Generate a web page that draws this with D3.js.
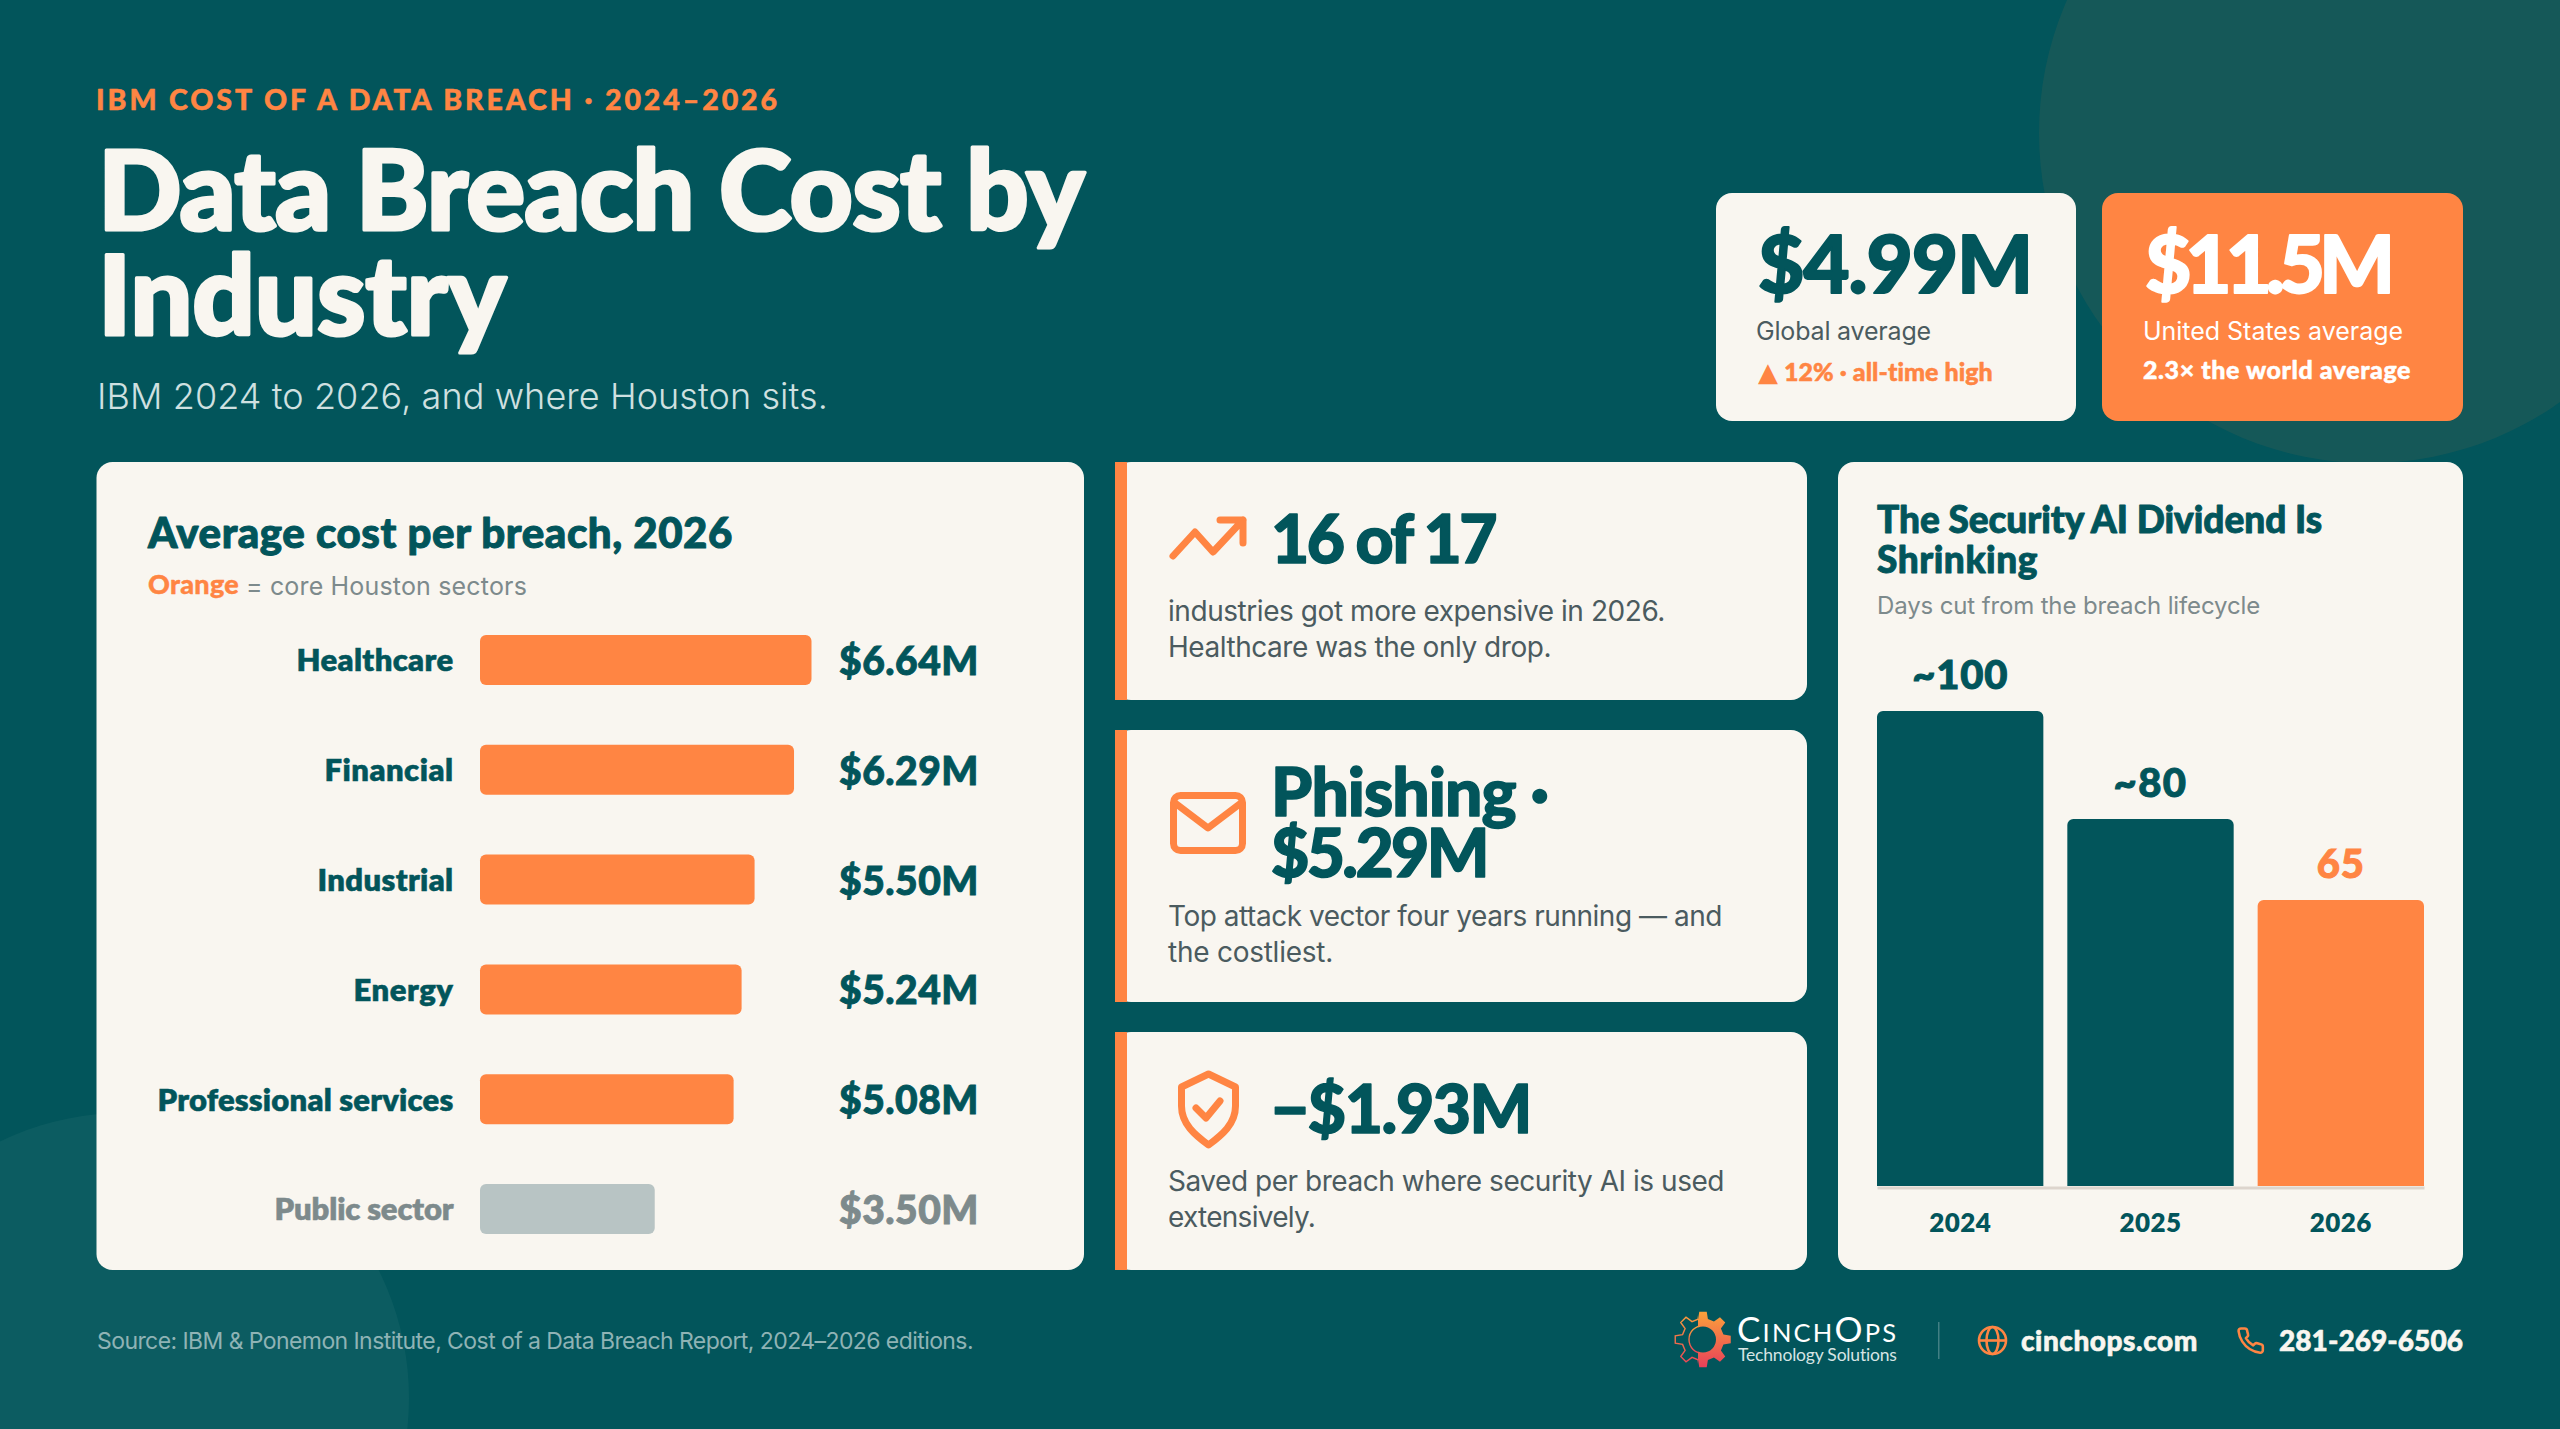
<!DOCTYPE html>
<html><head><meta charset="utf-8">
<script src="https://cdn.jsdelivr.net/npm/d3@7"></script>
<style>html,body{margin:0;padding:0;background:#02555b}svg{display:block}</style>
</head><body><svg id="c" width="2560" height="1429" viewBox="0 0 2560 1429"></svg>
<script>
const industries = ["Healthcare","Financial","Industrial","Energy","Professional services","Public sector"];
const costs = [6.64,6.29,5.50,5.24,5.08,3.50];
const coreSector = [true,true,true,true,true,false];
const years = ["2024","2025","2026"];
const daysCut = [100,80,65];
const daysLabels = ["~100","~80","65"];

const HEAD="Lato, sans-serif", BODY="Inter, sans-serif";
const BG="#02555b", CREAM="#f9f6f0", ORANGE="#ff8543", TEAL="#02555b", SLATE="#4b5b5f", GREY="#7d8a8c";
const svg=d3.select("#c");

function heavy(t,c,sw){t.attr("stroke",c).attr("stroke-width",sw).attr("stroke-linejoin","round");}
function T(g,x,y,s,o={}){
  const c=o.c||TEAL, z=o.s||28;
  const t=g.append("text").attr("x",x).attr("y",y).text(s)
    .attr("font-family",o.f||BODY).attr("font-size",z).attr("font-weight",o.b||400)
    .attr("fill",c).attr("text-anchor",o.a||"start");
  if(o.b>=900) heavy(t,c,o.sw!==undefined?o.sw:z*0.022);
  if(o.w) fit(t,o.w);
  return t;
}
function fit(t,w){const n=t.node(),w0=n.getComputedTextLength(),l=t.text().length;t.style("letter-spacing",((w-w0)/l)+"px");}

svg.append("rect").attr("width",2560).attr("height",1429).attr("fill",BG);
svg.append("circle").attr("cx",2369).attr("cy",133).attr("r",330).attr("fill",ORANGE).attr("fill-opacity",.08);
svg.append("circle").attr("cx",124).attr("cy",1398).attr("r",285).attr("fill",CREAM).attr("fill-opacity",.045);

// header
T(svg,96,109.5,"IBM COST OF A DATA BREACH · 2024–2026",{f:HEAD,s:28.5,b:900,sw:.5,c:ORANGE,w:684});
T(svg,98,230,"Data Breach Cost by",{f:HEAD,s:110,b:900,sw:3.2,c:CREAM,w:986});
T(svg,98,335,"Industry",{f:HEAD,s:110,b:900,sw:3.2,c:CREAM,w:408});
T(svg,97,409,"IBM 2024 to 2026, and where Houston sits.",{s:36,b:300,c:"#cfe0e0",w:731});

// KPI cards
const cards=svg.append("g");
function rr(x,y,w,h,fill,r=16){cards.append("rect").attr("x",x).attr("y",y).attr("width",w).attr("height",h).attr("rx",r).attr("fill",fill);}
rr(1716,193,360,228,CREAM);
rr(2102,193,361,228,ORANGE);
T(svg,1758,293,"$4.99M",{f:HEAD,s:80,b:900,w:274});
T(svg,1756,340,"Global average",{s:25,c:SLATE,w:175});
const up=T(svg,1758,381,"",{f:HEAD,s:25,b:900,sw:.5,c:ORANGE});
up.append("tspan").text("▲").attr("font-family","DejaVu Sans").attr("font-size",26).attr("stroke","none");
up.append("tspan").text(" 12% · all-time high").attr("dx",0).style("letter-spacing","0.05px");
T(svg,2145,293,"$11.5M",{f:HEAD,s:80,b:900,c:"#fff",w:244});
T(svg,2143,340,"United States average",{s:25,c:"#fff",w:260});
T(svg,2143,379,"2.3× the world average",{f:HEAD,s:25,b:900,sw:.5,c:"#fff",w:268});

// main cards
rr(96.5,462,987.5,808,CREAM);
[[462,238],[730,272],[1032,238]].forEach(([y,h])=>{
  rr(1115,y,692,h,CREAM);
  cards.append("rect").attr("x",1115).attr("y",y).attr("width",12).attr("height",h).attr("fill",ORANGE);
});
rr(1838,462,625,808,CREAM);

// left chart
const left=svg.append("g");
T(left,148,548,"Average cost per breach, 2026",{f:HEAD,s:42,b:900,sw:1,w:585});
T(left,148,594,"Orange",{f:HEAD,s:27,b:900,sw:.4,c:ORANGE,w:91});
T(left,246,595,"= core Houston sectors",{s:25,b:400,c:GREY,w:281});

const xCost=d3.scaleLinear().domain([0,6.64]).range([480,811.5]);
const yInd=d3.scaleBand().domain(industries).range([635,1234]).paddingInner(0.5446);
left.selectAll("rect.bar").data(industries).join("rect").attr("class","bar")
  .attr("x",xCost(0)).attr("y",d=>yInd(d)).attr("height",yInd.bandwidth())
  .attr("width",(d,i)=>xCost(costs[i])-xCost(0)).attr("rx",6)
  .attr("fill",(d,i)=>coreSector[i]?ORANGE:"#b8c4c4");

const axL=left.append("g").attr("transform","translate(453.5,0)").call(d3.axisLeft(yInd).tickSize(0).tickPadding(0));
axL.select(".domain").remove();
const labelW=[157,129,136,100,296,179];
axL.selectAll("text").attr("font-family",HEAD).attr("font-size",31).attr("font-weight",800)
  .attr("dy","0.37em").attr("fill",(d,i)=>coreSector[i]?TEAL:GREY)
  .attr("stroke",(d,i)=>coreSector[i]?TEAL:GREY).attr("stroke-width",.5)
  .each(function(d,i){fit(d3.select(this),labelW[i]);});

left.selectAll("text.val").data(industries).join("text").attr("class","val")
  .attr("x",839).attr("y",d=>yInd(d)+yInd.bandwidth()/2+15)
  .text((d,i)=>"$"+d3.format(".2f")(costs[i])+"M")
  .attr("font-family",HEAD).attr("font-size",39).attr("font-weight",900)
  .attr("fill",(d,i)=>coreSector[i]?TEAL:GREY)
  .attr("stroke",(d,i)=>coreSector[i]?TEAL:GREY).attr("stroke-width",.9)
  .each(function(){fit(d3.select(this),140);});

// middle
const mid=svg.append("g");
const icon=mid.append("g").attr("fill","none").attr("stroke",ORANGE).attr("stroke-linecap","round").attr("stroke-linejoin","round");
icon.append("path").attr("stroke-width",7).attr("d","M1173 556 L1195 532 L1213 552 L1243 520 M1220 520 H1243 V543");
icon.append("rect").attr("x",1173.5).attr("y",795.5).attr("width",69).attr("height",55).attr("rx",7).attr("stroke-width",7);
icon.append("path").attr("stroke-width",7).attr("d","M1175 803 L1208 828 L1241 803");
icon.append("path").attr("stroke-width",7).attr("d","M1208.5 1074 L1235.5 1087 V1106 C1235.5 1124 1222 1135 1208.5 1145 C1195 1135 1181.5 1124 1181.5 1106 V1087 Z");
icon.append("path").attr("stroke-width",7).attr("d","M1196 1108 L1206 1118 L1220 1101");

T(mid,1271,563,"16 of 17",{f:HEAD,s:66,b:900,w:224});
T(mid,1168,621,"industries got more expensive in 2026.",{s:28,c:SLATE,w:497});
T(mid,1168,657,"Healthcare was the only drop.",{s:28,c:SLATE,w:383});
T(mid,1271,816,"Phishing ·",{f:HEAD,s:66,b:900,w:277});
T(mid,1271,877,"$5.29M",{f:HEAD,s:66,b:900,w:216});
T(mid,1168,926,"Top attack vector four years running — and",{s:28,c:SLATE,w:554});
T(mid,1168,962,"the costliest.",{s:28,c:SLATE,w:165});
T(mid,1271,1133,"−$1.93M",{f:HEAD,s:66,b:900,w:260});
T(mid,1168,1191,"Saved per breach where security AI is used",{s:28,c:SLATE,w:556});
T(mid,1168,1227,"extensively.",{s:28,c:SLATE,w:147});

// right chart
const right=svg.append("g");
T(right,1877,533,"The Security AI Dividend Is",{f:HEAD,s:37,b:900,sw:.9,w:445});
T(right,1877,573,"Shrinking",{f:HEAD,s:37,b:900,sw:.9,w:161});
T(right,1877,613.5,"Days cut from the breach lifecycle",{s:24,c:GREY,w:383});

const xYear=d3.scaleBand().domain(years).range([1877,2424]).paddingInner(0.126);
const yDays=d3.scaleLinear().domain([12,100]).range([1186,711]);
const topRound=(x,y,w,b,r)=>{const p=d3.path();p.moveTo(x,b);p.lineTo(x,y+r);p.arcTo(x,y,x+r,y,r);p.lineTo(x+w-r,y);p.arcTo(x+w,y,x+w,y+r,r);p.lineTo(x+w,b);p.closePath();return p.toString();};
right.selectAll("path.bar").data(years).join("path").attr("class","bar")
  .attr("d",(d,i)=>topRound(xYear(d),yDays(daysCut[i]),xYear.bandwidth(),yDays(12),6))
  .attr("fill",(d,i)=>i==2?ORANGE:TEAL);
const valW=[96,74,48];
right.selectAll("text.val").data(years).join("text").attr("class","val")
  .attr("x",d=>xYear(d)+xYear.bandwidth()/2).attr("y",(d,i)=>yDays(daysCut[i])-22).attr("text-anchor","middle")
  .text((d,i)=>daysLabels[i]).attr("font-family",HEAD).attr("font-size",40).attr("font-weight",900)
  .attr("fill",(d,i)=>i==2?ORANGE:TEAL)
  .attr("stroke",(d,i)=>i==2?ORANGE:TEAL).attr("stroke-width",1)
  .each(function(d,i){fit(d3.select(this),valW[i]);});

const axB=right.append("g").attr("transform","translate(0,1187.5)").call(d3.axisBottom(xYear).tickSize(0).tickPadding(0));
axB.select(".domain").attr("stroke","#ddd5cd").attr("stroke-width",3);
axB.selectAll("text").attr("font-family",HEAD).attr("font-size",26).attr("font-weight",800).attr("fill",TEAL)
  .attr("y",0).attr("dy",44).each(function(){fit(d3.select(this),62);});

// footer
const foot=svg.append("g");
T(foot,97,1348.5,"Source: IBM & Ponemon Institute, Cost of a Data Breach Report, 2024–2026 editions.",{s:23,c:"#8fb3b5",w:876});

const defs=svg.append("defs");
const lg=defs.append("linearGradient").attr("id","gear").attr("x1",0).attr("y1",0).attr("x2",0).attr("y2",1);
lg.append("stop").attr("offset","0%").attr("stop-color","#fba23a");
lg.append("stop").attr("offset","100%").attr("stop-color","#e8405a");
defs.append("clipPath").attr("id","gr").append("rect").attr("x",1698).attr("y",1305).attr("width",40).attr("height",70);
defs.append("clipPath").attr("id","gl").append("rect").attr("x",1665).attr("y",1305).attr("width",33).attr("height",70);
const gearPts=[];const gx=1703,gy=1339.5,R=28,Rr=21,N=8;
for(let i=0;i<N;i++){const a=i/N*2*Math.PI,st=2*Math.PI/N;
  [[-.30,Rr],[-.17,R],[.17,R],[.30,Rr]].forEach(([k,r])=>gearPts.push([gx+r*Math.cos(a+k*st),gy+r*Math.sin(a+k*st)]));}
const gp=d3.line()(gearPts)+"Z";
foot.append("path").attr("d",gp+` M${gx+13} ${gy} A13 13 0 1 0 ${gx-13} ${gy} A13 13 0 1 0 ${gx+13} ${gy}Z`)
  .attr("fill-rule","evenodd").attr("fill","url(#gear)").attr("clip-path","url(#gr)");
foot.append("path").attr("d",gp).attr("fill","none").attr("stroke","url(#gear)").attr("stroke-width",1.4).attr("clip-path","url(#gl)");
foot.append("circle").attr("cx",gx).attr("cy",gy).attr("r",14).attr("fill","none").attr("stroke","url(#gear)").attr("stroke-width",1.4).attr("clip-path","url(#gl)");

const brand=T(foot,1737,1342,"",{f:HEAD,b:400,c:"#fff"});
[["C",35],["INCH",25.5],["O",35],["PS",25.5]].forEach(([s,z])=>brand.append("tspan").text(s).attr("font-size",z));
brand.style("letter-spacing","2.2px");
T(foot,1738,1360.5,"Technology Solutions",{f:HEAD,s:17.5,c:"#d6e4e4",w:159});
foot.append("rect").attr("x",1938).attr("y",1322).attr("width",1.5).attr("height",37).attr("fill","#fff").attr("fill-opacity",.25);

const gi=foot.append("g").attr("fill","none").attr("stroke",ORANGE).attr("stroke-width",2.6);
gi.append("circle").attr("cx",1992.5).attr("cy",1340.5).attr("r",13.5);
gi.append("ellipse").attr("cx",1992.5).attr("cy",1340.5).attr("rx",6).attr("ry",13.5);
gi.append("path").attr("d","M1979 1340.5H2006");
T(foot,2021,1351,"cinchops.com",{f:HEAD,s:28,b:900,sw:.6,c:CREAM,w:177});
foot.append("g").attr("transform","translate(2236,1326) scale(1.22)").append("path")
  .attr("d","M22 16.92v3a2 2 0 0 1-2.18 2 19.79 19.79 0 0 1-8.63-3.07 19.5 19.5 0 0 1-6-6 19.79 19.79 0 0 1-3.07-8.67A2 2 0 0 1 4.11 2h3a2 2 0 0 1 2 1.72 12.84 12.84 0 0 0 .7 2.81 2 2 0 0 1-.45 2.11L8.09 9.91a16 16 0 0 0 6 6l1.27-1.27a2 2 0 0 1 2.11-.45 12.84 12.84 0 0 0 2.81.7A2 2 0 0 1 22 16.92z")
  .attr("fill","none").attr("stroke",ORANGE).attr("stroke-width",2.1).attr("stroke-linejoin","round");
T(foot,2279,1351,"281-269-6506",{f:HEAD,s:28,b:900,sw:.6,c:CREAM,w:184});
</script></body></html>
